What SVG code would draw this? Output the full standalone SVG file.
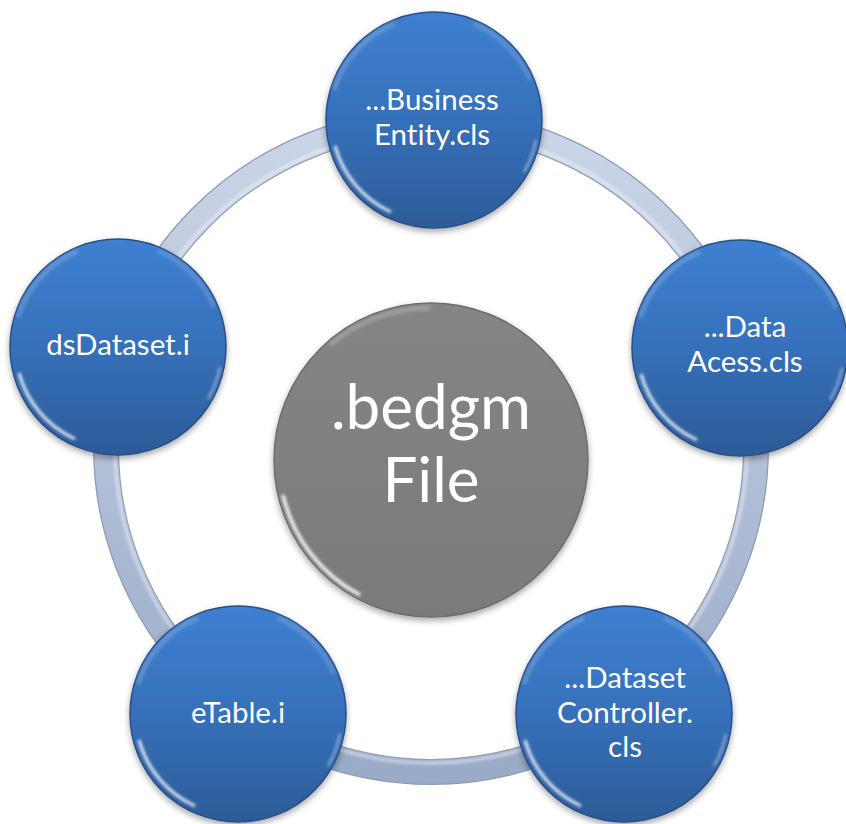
<svg xmlns="http://www.w3.org/2000/svg" xmlns:xlink="http://www.w3.org/1999/xlink" width="846" height="824" viewBox="0 0 846 824">
  <style>
    .lbl { font-family: "Lato", "Open Sans", "Liberation Sans", sans-serif; fill: #ffffff; text-anchor: middle; font-variant-ligatures: none; }
    .nodeText { font-size: 29.5px; }
    .centerText { font-size: 62px; }
  </style>
  <defs>
    <linearGradient id="blueFill" x1="0" y1="0" x2="0" y2="1">
      <stop offset="0" stop-color="#3f80d1"/>
      <stop offset="0.5" stop-color="#3670ba"/>
      <stop offset="1" stop-color="#2c5b98"/>
    </linearGradient>
    <linearGradient id="grayFill" x1="0" y1="0" x2="0" y2="1">
      <stop offset="0" stop-color="#858585"/>
      <stop offset="1" stop-color="#7a7a7a"/>
    </linearGradient>
    <linearGradient id="ringStroke" x1="0" y1="0" x2="0" y2="1">
      <stop offset="0" stop-color="#cbd5e7"/>
      <stop offset="0.5" stop-color="#b3c0d8"/>
      <stop offset="1" stop-color="#9aabc7"/>
    </linearGradient>
    <filter id="shadow" x="-20%" y="-20%" width="140%" height="140%">
      <feDropShadow dx="0" dy="3" stdDeviation="3" flood-color="#000" flood-opacity="0.35"/>
    </filter>
    <filter id="soft" x="-20%" y="-20%" width="140%" height="140%">
      <feGaussianBlur stdDeviation="1.5"/>
    </filter>
    <g id="bubble">
      <circle r="108" fill="url(#blueFill)" stroke="#2a4f86" stroke-width="1.5" filter="url(#shadow)"/>
      <path d="M -100 -30 A 104 104 0 0 1 -40 -96" fill="none" stroke="#ffffff" stroke-opacity="0.18" stroke-width="5" filter="url(#soft)"/>
      <path d="M 40 -96 A 104 104 0 0 1 96 -40" fill="none" stroke="#ffffff" stroke-opacity="0.15" stroke-width="5" filter="url(#soft)"/>
      <path d="M -99 26 A 102 102 0 0 0 -43 92" fill="none" stroke="#ffffff" stroke-opacity="0.85" stroke-width="3" filter="url(#soft)"/>
      <path d="M 102 20 A 104 104 0 0 1 90 52" fill="none" stroke="#ffffff" stroke-opacity="0.5" stroke-width="2" filter="url(#soft)"/>
    </g>
  </defs>

  <g id="connectors">
    <circle cx="431" cy="447" r="325" fill="none" stroke="#8a9cb9" stroke-width="26"/>
    <circle cx="431" cy="447" r="325" fill="none" stroke="url(#ringStroke)" stroke-width="23.5"/>
    <circle cx="431" cy="447" r="316" fill="none" stroke="#ffffff" stroke-opacity="0.5" stroke-width="3" filter="url(#soft)"/>
  </g>

  <g id="node-center">
    <circle cx="431" cy="460" r="157" fill="url(#grayFill)" stroke="#6d6d6d" stroke-width="1.5" filter="url(#shadow)"/>
    <path d="M 283 495 A 152 152 0 0 0 360 595" fill="none" stroke="#ffffff" stroke-opacity="0.9" stroke-width="3.5" filter="url(#soft)"/>
    <path d="M 330 345 A 152 152 0 0 1 430 308" fill="none" stroke="#ffffff" stroke-opacity="0.2" stroke-width="5" filter="url(#soft)"/>
    <text class="lbl centerText" x="431" y="429">.bedgm</text>
    <text class="lbl centerText" x="431" y="502">File</text>
  </g>

  <g id="node-business" transform="translate(434,120)">
    <use xlink:href="#bubble"/>
    <text class="lbl nodeText" x="-2" y="-10">...Business</text>
    <text class="lbl nodeText" x="-2" y="25">Entity.cls</text>
  </g>

  <g id="node-data-access" transform="translate(740,348)">
    <use xlink:href="#bubble"/>
    <text class="lbl nodeText" x="5" y="-11">...Data</text>
    <text class="lbl nodeText" x="5" y="24">Acess.cls</text>
  </g>

  <g id="node-dataset-controller" transform="translate(624,714)">
    <use xlink:href="#bubble"/>
    <text class="lbl nodeText" x="1" y="-26">...Dataset</text>
    <text class="lbl nodeText" x="1" y="9">Controller.</text>
    <text class="lbl nodeText" x="1" y="43">cls</text>
  </g>

  <g id="node-etable" transform="translate(238,714)">
    <use xlink:href="#bubble"/>
    <text class="lbl nodeText" x="0" y="9">eTable.i</text>
  </g>

  <g id="node-dsdataset" transform="translate(118,347)">
    <use xlink:href="#bubble"/>
    <text class="lbl nodeText" x="0" y="8">dsDataset.i</text>
  </g>
</svg>
